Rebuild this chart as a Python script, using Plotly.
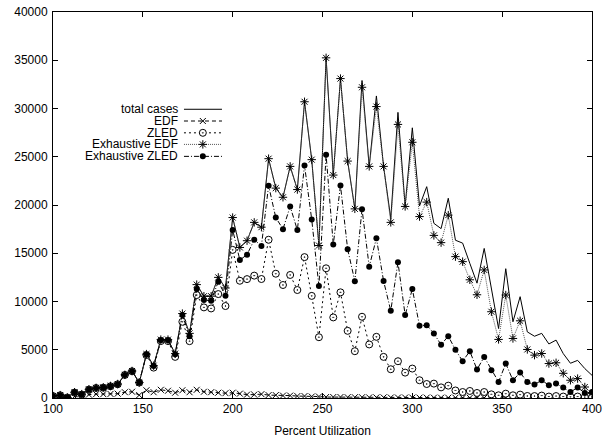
import plotly.graph_objects as go

x_util = list(range(100, 401, 4))

total_cases = [200, 300, 50, 600, 400, 900, 1050, 1100, 1250, 1450,
               2400, 2800, 1600, 4550, 3350, 6050, 6050, 4600, 8750, 6700,
               11750, 10550, 10550, 12500, 11400, 18700, 15600, 16300, 18200, 17700,
               24800, 21750, 20800, 24000, 21600, 30700, 24700, 15800, 35250, 23100,
               33100, 24550, 19600, 32900, 24000, 31300, 24000, 18600, 29600, 19900,
               28000, 19900, 21900, 18100, 17550, 20700, 16350, 16050, 13950, 11900,
               15500, 11500, 7200, 13400, 7900, 10500, 6850, 6400, 6700, 5600,
               6000, 4600, 3600, 3900, 3050, 2350]

edf = [0, 50, 0, 150, 100, 350, 400, 400, 420, 450,
       600, 650, 300, 800, 600, 850, 750, 550, 800, 600,
       850, 650, 600, 550, 500, 550, 450, 350, 350, 400,
       300, 300, 250, 250, 200, 200, 150, 150, 100, 100,
       100, 80, 80, 80, 60, 60, 60, 50, 50, 50,
       40, 40, 40, 30, 30, 30, 30, 20, 20, 20,
       20, 20, 10, 10, 10, 10, 10, 10, 10, 10,
       0, 0, 0, 0, 0, 0]

zled = [200, 280, 50, 560, 350, 870, 1040, 1070, 1215, 1420,
        2390, 2770, 1600, 4450, 3150, 5900, 5900, 4260, 7900, 5890,
        10670, 9390, 9280, 10770, 9530, 15350, 12150, 12320, 12680, 12330,
        16400, 12880, 11710, 12750, 11190, 14600, 10580, 6300, 13440, 8350,
        10950, 6960, 4850, 8420, 5550, 6340, 4260, 2980, 3810, 2630,
        3050, 1840, 1450, 1490, 1100, 1280, 780, 620, 730, 520,
        620, 380, 280, 450, 280, 350, 210, 200, 250, 150,
        200, 150, 120, 150, 100, 100]

exh_edf = [200, 300, 50, 600, 400, 900, 1050, 1100, 1250, 1450,
           2400, 2800, 1600, 4550, 3350, 6050, 6050, 4600, 8750, 6700,
           11750, 10550, 10550, 12500, 11400, 18700, 15600, 16300, 18200, 17700,
           24800, 21750, 20800, 24000, 21600, 30700, 24700, 15800, 35250, 23100,
           33100, 24550, 19600, 32200, 24000, 30200, 24000, 18200, 28350, 19850,
           26500, 18800, 20300, 16850, 16100, 18950, 14650, 14130, 12250, 10700,
           13270, 8940, 6070, 10670, 6170, 8000, 5030, 4440, 4610, 3570,
           3650, 2560, 1840, 2010, 1140, 480]

exh_zled = [200, 280, 50, 560, 350, 870, 1040, 1070, 1215, 1420,
            2390, 2770, 1600, 4510, 3320, 5990, 5990, 4540, 8590, 6410,
            11290, 10150, 10080, 12050, 10600, 17420, 14300, 14850, 16400, 15760,
            22000, 18700, 17500, 19850, 17400, 24100, 18500, 11600, 25200, 15900,
            22030, 15420, 12100, 19570, 13610, 16560, 12120, 9040, 14070, 8590,
            11290, 7480, 7550, 6690, 5520, 6410, 5000, 3810, 4850, 2950,
            4260, 2880, 1660, 3570, 1840, 2630, 1660, 1390, 1840, 1320,
            1490, 1080, 620, 1080, 520, 620]

x_tick_vals = [100, 150, 200, 250, 300, 350, 400]
y_tick_vals = [0, 5000, 10000, 15000, 20000, 25000, 30000, 35000, 40000]

names = ["total cases", "EDF", "ZLED", "Exhaustive EDF", "Exhaustive ZLED"]
series = [total_cases, edf, zled, exh_edf, exh_zled]
styles = [
    dict(dash="solid", color="black", width=1, symbol=None, msize=0),
    dict(dash="4px,3px", color="black", width=1, symbol="x-thin-open", msize=6),
    dict(dash="2px,3px", color="black", width=1, symbol="circle-dot", msize=7),
    dict(dash="1px,1px", color="#555555", width=1, symbol="asterisk-open", msize=7),
    dict(dash="5px,2px,1px,2px", color="black", width=1, symbol="circle", msize=6),
]


def make_marker(st, size):
    if st["symbol"] == "circle-dot":
        return dict(symbol="circle-dot", size=size, color="white",
                    line=dict(color="black", width=1))
    if st["symbol"] == "circle":
        return dict(symbol="circle", size=size, color="black",
                    line=dict(color="black", width=0))
    return dict(symbol=st["symbol"], size=size, color="black",
                line=dict(color="black", width=1))


FONT = "Liberation Sans, Arial, Helvetica, sans-serif"
fig = go.Figure()

for name, ys, st in zip(names, series, styles):
    line = dict(color=st["color"], width=st["width"], dash=st["dash"])
    if st["symbol"] is None:
        fig.add_trace(go.Scatter(x=x_util, y=ys, mode="lines", name=name, line=line,
                                 hoverinfo="skip", showlegend=False))
    else:
        fig.add_trace(go.Scatter(x=x_util, y=ys, mode="lines+markers", name=name, line=line,
                                 marker=make_marker(st, st["msize"]),
                                 hoverinfo="skip", showlegend=False))

# gnuplot-style key: text right-aligned, sample to its right
key_rows = [0.748, 0.7176, 0.687, 0.657, 0.626]
key_text_x = 0.2356
key_line = [0.243, 0.278, 0.3135]
for name, st, ky in zip(names, styles, key_rows):
    fig.add_annotation(x=key_text_x, y=ky, xref="paper", yref="paper", text=name,
                       showarrow=False, xanchor="right", yanchor="middle",
                       font=dict(family=FONT, size=12, color="black"))
    line = dict(color=st["color"], width=st["width"], dash=st["dash"])
    fig.add_trace(go.Scatter(x=[key_line[0], key_line[2]], y=[ky, ky], xaxis="x2", yaxis="y2",
                             mode="lines", line=line, hoverinfo="skip", showlegend=False))
    if st["symbol"] is not None:
        fig.add_trace(go.Scatter(x=[key_line[1]], y=[ky], xaxis="x2", yaxis="y2",
                                 mode="markers", marker=make_marker(st, st["msize"]),
                                 hoverinfo="skip", showlegend=False))

fig.update_layout(
    width=613, height=438,
    margin=dict(l=53, r=21, t=12, b=40, autoexpand=False),
    paper_bgcolor="white", plot_bgcolor="white",
    font=dict(family=FONT, size=12, color="black"),
    showlegend=False,
    xaxis=dict(range=[100, 400], tickmode="array", tickvals=x_tick_vals,
               ticktext=[str(v) for v in x_tick_vals], automargin=False,
               ticks="inside", ticklen=5, tickcolor="black", showline=True, linecolor="black",
               linewidth=1, mirror="allticks", showgrid=False, zeroline=False,
               title=dict(text="Percent Utilization", font=dict(size=12)),
               tickfont=dict(size=12)),
    yaxis=dict(range=[0, 40000], tickmode="array", tickvals=y_tick_vals,
               ticktext=[str(v) for v in y_tick_vals], automargin=False,
               ticks="inside", ticklen=5, tickcolor="black", showline=True, linecolor="black",
               linewidth=1, mirror="allticks", showgrid=False, zeroline=False,
               tickfont=dict(size=12), ticklabelstandoff=2),
    xaxis2=dict(range=[0, 1], overlaying="x", visible=False, fixedrange=True),
    yaxis2=dict(range=[0, 1], overlaying="y", visible=False, fixedrange=True),
    hovermode=False,
)

fig.write_html("out.html", config={"displayModeBar": False})
